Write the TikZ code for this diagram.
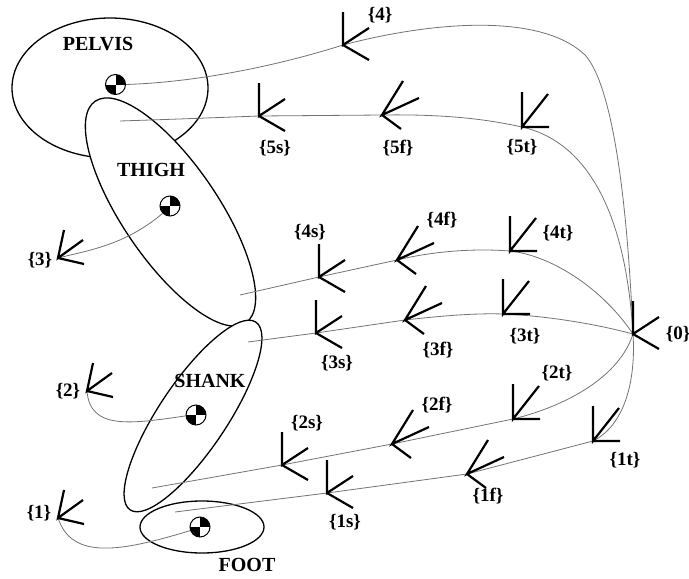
\documentclass[tikz,border=0pt]{standalone}
\usepackage{fontspec}
\setmainfont{Liberation Serif}
\usetikzlibrary{shapes.geometric}
\definecolor{curvegray}{RGB}{115,115,115}
\begin{document}
\begin{tikzpicture}[x=1pt,y=-1pt,
  bodyseg/.style={ellipse, draw=black, line width=1.3pt, fill=white, inner sep=0pt},
  comnode/.style={circle, draw=black, line width=1pt, fill=white, minimum size=20pt, inner sep=0pt,
    path picture={
      \fill[black] (path picture bounding box.center) rectangle (path picture bounding box.north east);
      \fill[black] (path picture bounding box.center) rectangle (path picture bounding box.south west);
    }},
  chain/.style={draw=curvegray, line width=0.8pt},
  axes/.style={draw=black, line width=2.2pt},
  seglabel/.style={font=\bfseries\fontsize{20}{22}\selectfont, inner sep=0pt},
  framelabel/.style={font=\bfseries\fontsize{19}{21}\selectfont, inner sep=0pt},
  % frame glyphs drawn at an origin
  sframepic/.pic={\draw[axes] (0,-33) -- (0,0) -- (26,-17) (0,0) -- (26,15);},
  fframepic/.pic={\draw[axes] (21,-34) -- (0,0) -- (37,-17) (0,0) -- (19,14);},
  tframepic/.pic={\draw[axes] (0,-35) -- (0,0) -- (26,-33) (0,0) -- (27,0);},
  rframepic/.pic={\draw[axes] (6,-28) -- (0,0) -- (25,-18) (0,0) -- (26,6);},
]
\useasboundingbox (0,0) rectangle (689,579);

% body segments
\node[bodyseg, minimum width=196pt, minimum height=140pt] (pelvis) at (110,88) {};
\node[bodyseg, minimum width=268pt, minimum height=96pt, rotate=-55.8] (thigh) at (170.5,212) {};
\node[bodyseg, minimum width=226pt, minimum height=68pt, rotate=56.2] (shank) at (193,416) {};
\node[bodyseg, minimum width=124pt, minimum height=52pt] (foot) at (202,527) {};

\node[seglabel] (pelvislabel) at (98,44) {PELVIS};
\node[seglabel] (thighlabel) at (151,170) {THIGH};
\node[seglabel] (shanklabel) at (210,381) {SHANK};
\node[seglabel] (footlabel) at (247,565) {FOOT};

% frame origins
\coordinate (F4) at (343,45);
\coordinate (F5s) at (259,116);
\coordinate (F5f) at (382,115);
\coordinate (F5t) at (522,127);
\coordinate (F4s) at (319,277);
\coordinate (F4f) at (397,260);
\coordinate (F4t) at (510,251);
\coordinate (F3s) at (316,333);
\coordinate (F3f) at (405,320);
\coordinate (F3t) at (503,314);
\coordinate (F2s) at (282,465);
\coordinate (F2f) at (392,444);
\coordinate (F2t) at (513,419);
\coordinate (F1s) at (327,493);
\coordinate (F1f) at (467,474);
\coordinate (F1t) at (593,441);
\coordinate (F0) at (633,334);
\coordinate (F3) at (58,258);
\coordinate (F2) at (87,391);
\coordinate (F1) at (58,518);

% free ends of the joint chains inside the segments
\coordinate (hip) at (120,121);
\coordinate (kneeup) at (240,295);
\coordinate (kneelow) at (248,342);
\coordinate (ankleup) at (152,488);
\coordinate (anklelow) at (175,512);

% centres of mass
\node[comnode] (pcom) at (115.5,84.5) {};
\node[comnode] (tcom) at (170,206) {};
\node[comnode] (scom) at (196,415) {};
\node[comnode] (fcom) at (200,527) {};

% chains to the ground frame
\draw[chain] (pcom.east) .. controls (200,82) and (280,65) .. (F4)
  .. controls (430,22) and (540,12) .. (585,55)
  .. controls (608,80) and (626,170) .. (F0);
\draw[chain] (hip) .. controls (180,119) .. (F5s) -- (F5f)
  .. controls (450,114) and (490,120) .. (F5t)
  .. controls (580,140) and (625,200) .. (F0);
\draw[chain] (kneeup) -- (F4s) -- (F4f)
  .. controls (430,252) and (470,248) .. (F4t)
  .. controls (548,255) and (600,285) .. (F0);
\draw[chain] (kneelow) -- (F3s) -- (F3f)
  .. controls (440,316) and (475,313) .. (F3t)
  .. controls (550,316) and (600,325) .. (F0);
\draw[chain] (ankleup) -- (F2s) -- (F2f) -- (F2t)
  .. controls (570,405) and (620,375) .. (F0);
\draw[chain] (anklelow) -- (F1s) -- (F1f) -- (F1t)
  .. controls (625,425) and (636,380) .. (F0);

% links from the centres of mass to the segment frames
\draw[chain] (tcom.225) .. controls (125,245) and (90,250) .. (F3);
\draw[chain] (scom.185) .. controls (130,424) and (90,430) .. (F2);
\draw[chain] (fcom.200) .. controls (120,552) and (72,560) .. (F1);

% frame glyphs
\pic at (F4) {sframepic};
\pic at (F5s) {sframepic};
\pic at (F5f) {fframepic};
\pic at (F5t) {tframepic};
\pic at (F4s) {sframepic};
\pic at (F4f) {fframepic};
\pic at (F4t) {tframepic};
\pic at (F3s) {sframepic};
\pic at (F3f) {fframepic};
\pic at (F3t) {tframepic};
\pic at (F2s) {sframepic};
\pic at (F2f) {fframepic};
\pic at (F2t) {tframepic};
\pic at (F1s) {sframepic};
\pic at (F1f) {fframepic};
\pic at (F1t) {tframepic};
\pic at (F0) {sframepic};
\pic at (F3) {rframepic};
\pic at (F2) {rframepic};
\pic at (F1) {rframepic};

% frame labels
\node[framelabel] (L4) at (380,15) {\{4\}};
\node[framelabel] (L5s) at (275,148) {\{5s\}};
\node[framelabel] (L5f) at (398,148) {\{5f\}};
\node[framelabel] (L5t) at (522,147) {\{5t\}};
\node[framelabel] (L4s) at (310,232) {\{4s\}};
\node[framelabel] (L4f) at (442,220) {\{4f\}};
\node[framelabel] (L4t) at (558,233) {\{4t\}};
\node[framelabel] (L3s) at (337,363) {\{3s\}};
\node[framelabel] (L3f) at (438,350) {\{3f\}};
\node[framelabel] (L3t) at (525,336) {\{3t\}};
\node[framelabel] (L2t) at (557,373) {\{2t\}};
\node[framelabel] (L2f) at (437,405) {\{2f\}};
\node[framelabel] (L2s) at (307,423) {\{2s\}};
\node[framelabel] (L1t) at (625,460) {\{1t\}};
\node[framelabel] (L1f) at (488,496) {\{1f\}};
\node[framelabel] (L1s) at (345,522) {\{1s\}};
\node[framelabel] (L0) at (678,334) {\{0\}};
\node[framelabel] (L3) at (40,260) {\{3\}};
\node[framelabel] (L2) at (68,391) {\{2\}};
\node[framelabel] (L1) at (39,513) {\{1\}};
\end{tikzpicture}
\end{document}
